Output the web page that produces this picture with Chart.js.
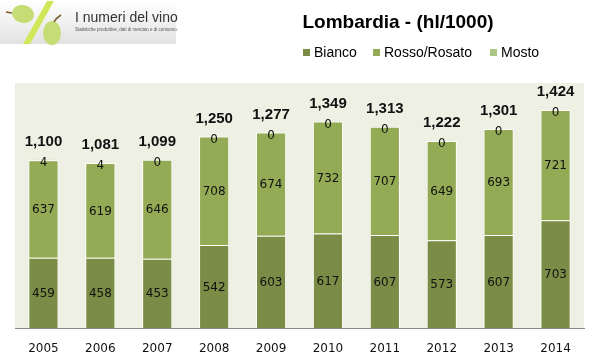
<!DOCTYPE html>
<html>
<head>
<meta charset="utf-8">
<script src="https://cdn.jsdelivr.net/npm/chart.js@4"></script>
<style>
  html, body { margin: 0; padding: 0; background: #fff; }
  #wrap { width: 599px; height: 363px; }
</style>
</head>
<body>
<div id="wrap"><canvas id="vinoChart" width="599" height="363"></canvas></div>
<script>
const years = ['2005', '2006', '2007', '2008', '2009', '2010', '2011', '2012', '2013', '2014'];
const bianco = [459, 458, 453, 542, 603, 617, 607, 573, 607, 703];
const rossoRosato = [637, 619, 646, 708, 674, 732, 707, 649, 693, 721];
const mosto = [4, 4, 0, 0, 0, 0, 0, 0, 0, 0];
const totals = [1100, 1081, 1099, 1250, 1277, 1349, 1313, 1222, 1301, 1424];

const colBianco = '#7a8c45';
const colRosso = '#93ab55';
const colMosto = '#abc582';

const fmt = (n) => n.toLocaleString('en-US');

// background of the plot area, logo, title and legend
const decorPlugin = {
    id: 'decor',
    beforeDraw(chart) {
        const ctx = chart.ctx;
        const a = chart.chartArea;
        ctx.save();
        ctx.fillStyle = '#eef0e3';
        ctx.fillRect(a.left, a.top, a.right - a.left, a.bottom - a.top);

        // logo
        const g = ctx.createLinearGradient(0, 0, 0, 44);
        g.addColorStop(0, '#ffffff');
        g.addColorStop(1, '#e2e2e2');
        ctx.fillStyle = g;
        ctx.fillRect(0, 0, 176, 44);
        ctx.fillStyle = '#d2e65a';
        ctx.beginPath();
        ctx.moveTo(47, 1); ctx.lineTo(54, 1); ctx.lineTo(30, 44); ctx.lineTo(23, 44);
        ctx.closePath(); ctx.fill();
        ctx.fillStyle = '#c6dc74';
        ctx.beginPath(); ctx.ellipse(23, 14, 11, 9, 0.2, 0, Math.PI * 2); ctx.fill();
        ctx.beginPath(); ctx.ellipse(52, 33, 9, 12, 0, 0, Math.PI * 2); ctx.fill();
        ctx.strokeStyle = '#7a5a2a'; ctx.lineWidth = 1.5;
        ctx.beginPath(); ctx.moveTo(6, 12); ctx.lineTo(12, 13); ctx.stroke();
        ctx.beginPath(); ctx.moveTo(54, 22); ctx.quadraticCurveTo(56, 18, 61, 15); ctx.stroke();
        ctx.fillStyle = '#333';
        ctx.font = '14px "Liberation Sans", Arial, sans-serif';
        ctx.textBaseline = 'alphabetic';
        ctx.fillText('I numeri del vino', 75, 22);
        ctx.font = '4.5px "Liberation Sans", Arial, sans-serif';
        ctx.fillStyle = '#555';
        ctx.fillText('Statistiche produttive, dati di mercato e di consumo.', 75, 31);

        // title
        ctx.fillStyle = '#000';
        ctx.font = 'bold 19px "Liberation Sans", Arial, sans-serif';
        ctx.textAlign = 'center';
        ctx.textBaseline = 'middle';
        ctx.fillText('Lombardia - (hl/1000)', 398, 23);

        // legend
        const items = [['Bianco', colBianco, 303], ['Rosso/Rosato', colRosso, 373], ['Mosto', colMosto, 490]];
        ctx.font = '14px "Liberation Sans", Arial, sans-serif';
        ctx.textAlign = 'left';
        items.forEach(([label, color, x]) => {
            ctx.fillStyle = color;
            ctx.fillRect(x, 49, 7, 7);
            ctx.fillStyle = '#000';
            ctx.fillText(label, x + 11, 53);
        });
        ctx.restore();
    },
    afterDatasetsDraw(chart) {
        const ctx = chart.ctx;
        ctx.save();
        ctx.textAlign = 'center';
        ctx.textBaseline = 'middle';
        ctx.fillStyle = '#111';
        ctx.font = '12px "DejaVu Sans", Verdana, sans-serif';
        const mB = chart.getDatasetMeta(0).data;
        const mR = chart.getDatasetMeta(1).data;
        const mM = chart.getDatasetMeta(2).data;
        mB.forEach((bar, i) => ctx.fillText(String(bianco[i]), bar.x, (bar.y + bar.base) / 2 + 1));
        mR.forEach((bar, i) => ctx.fillText(String(rossoRosato[i]), bar.x, (bar.y + bar.base) / 2 + 1));
        mM.forEach((bar, i) => ctx.fillText(String(mosto[i]), bar.x, bar.y + 3));
        ctx.font = 'bold 15px "Liberation Sans", Arial, sans-serif';
        mM.forEach((bar, i) => ctx.fillText(fmt(totals[i]), bar.x, bar.y - 18));
        ctx.restore();
    }
};

const ctx = document.getElementById('vinoChart').getContext('2d');
new Chart(ctx, {
    type: 'bar',
    data: {
        labels: years,
        datasets: [
            { label: 'Bianco', data: bianco, backgroundColor: colBianco },
            { label: 'Rosso/Rosato', data: rossoRosato, backgroundColor: colRosso },
            { label: 'Mosto', data: mosto, backgroundColor: colMosto }
        ]
    },
    options: {
        responsive: false,
        animation: false,
        devicePixelRatio: 1,
        layout: { padding: { top: 83, left: 15, right: 15, bottom: 0 } },
        datasets: {
            bar: {
                categoryPercentage: 1,
                barPercentage: 0.53,
                borderColor: '#ffffff',
                borderWidth: 1,
                borderSkipped: 'bottom'
            }
        },
        plugins: {
            legend: { display: false },
            title: { display: false },
            tooltip: { enabled: false }
        },
        scales: {
            x: {
                stacked: true,
                grid: { display: false, drawTicks: false },
                border: { display: true, color: '#8c8c8c', width: 1 },
                ticks: {
                    color: '#111',
                    padding: 14,
                    font: { family: '"DejaVu Sans", Verdana, sans-serif', size: 12 }
                },
                afterFit(scale) { scale.height = 35; }
            },
            y: {
                stacked: true,
                display: false,
                min: 0,
                max: 1600
            }
        }
    },
    plugins: [decorPlugin]
});
</script>
</body>
</html>
